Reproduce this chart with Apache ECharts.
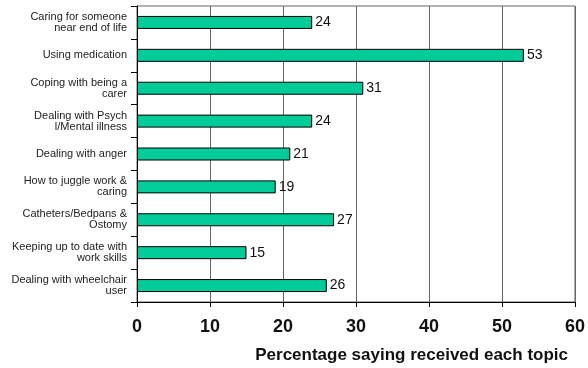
<!DOCTYPE html>
<html>
<head>
<meta charset="utf-8">
<script src="https://cdn.jsdelivr.net/npm/echarts@6/dist/echarts.min.js"></script>
<style>
  html, body { margin: 0; padding: 0; background: #fff; }
  #chart { width: 588px; height: 368px; }
</style>
</head>
<body>
<div id="chart"></div>
<script>
// Topics covered in carer training, top to bottom
const topics = [
  'Caring for someone\nnear end of life',
  'Using medication',
  'Coping with being a\ncarer',
  'Dealing with Psych\nl/Mental illness',
  'Dealing with anger',
  'How to juggle work &\ncaring',
  'Catheters/Bedpans &\nOstomy',
  'Keeping up to date with\nwork skills',
  'Dealing with wheelchair\nuser'
];
// Percentage saying they received each topic
const percentReceived = [24, 53, 31, 24, 21, 19, 27, 15, 26];
const xTicks = [0, 10, 20, 30, 40, 50, 60];
const axisTitle = 'Percentage saying received each topic';

const chart = echarts.init(document.getElementById('chart'), null, { renderer: 'canvas' });

chart.setOption({
  animation: false,
  backgroundColor: '#ffffff',
  title: {
    text: axisTitle,
    right: 20,
    top: 347,
    padding: 0,
    textStyle: { fontFamily: 'Liberation Sans, Arial, sans-serif', fontSize: 17, fontWeight: 'bold', color: '#111' }
  },
  grid: {
    left: 137, right: 13, top: 6, bottom: 66,
    show: true, borderColor: '#666', borderWidth: 1
  },
  xAxis: {
    type: 'value',
    min: xTicks[0],
    max: xTicks[xTicks.length - 1],
    interval: 10,
    axisLine: { show: true, lineStyle: { color: '#000', width: 1 } },
    axisTick: { show: true, length: 5, lineStyle: { color: '#000' } },
    splitLine: { show: true, lineStyle: { color: '#666', width: 1 } },
    axisLabel: {
      margin: 16,
      fontFamily: 'Liberation Sans, Arial, sans-serif',
      fontSize: 18, fontWeight: 'bold', color: '#111'
    }
  },
  yAxis: {
    type: 'category',
    data: topics,
    inverse: true,
    axisLine: { show: true, lineStyle: { color: '#000', width: 1 } },
    axisTick: { show: true, length: 6, alignWithLabel: false, lineStyle: { color: '#000' } },
    axisLabel: {
      margin: 10,
      fontFamily: 'Liberation Sans, Arial, sans-serif',
      fontSize: 11, lineHeight: 11, color: '#222', align: 'right'
    }
  },
  series: [{
    type: 'bar',
    data: percentReceived,
    barWidth: 13,
    itemStyle: { color: '#00cc99', borderColor: '#000', borderWidth: 1 },
    label: {
      show: true,
      position: 'right',
      distance: 3,
      fontFamily: 'Liberation Sans, Arial, sans-serif',
      fontSize: 14, color: '#111'
    }
  }]
});
</script>
</body>
</html>
